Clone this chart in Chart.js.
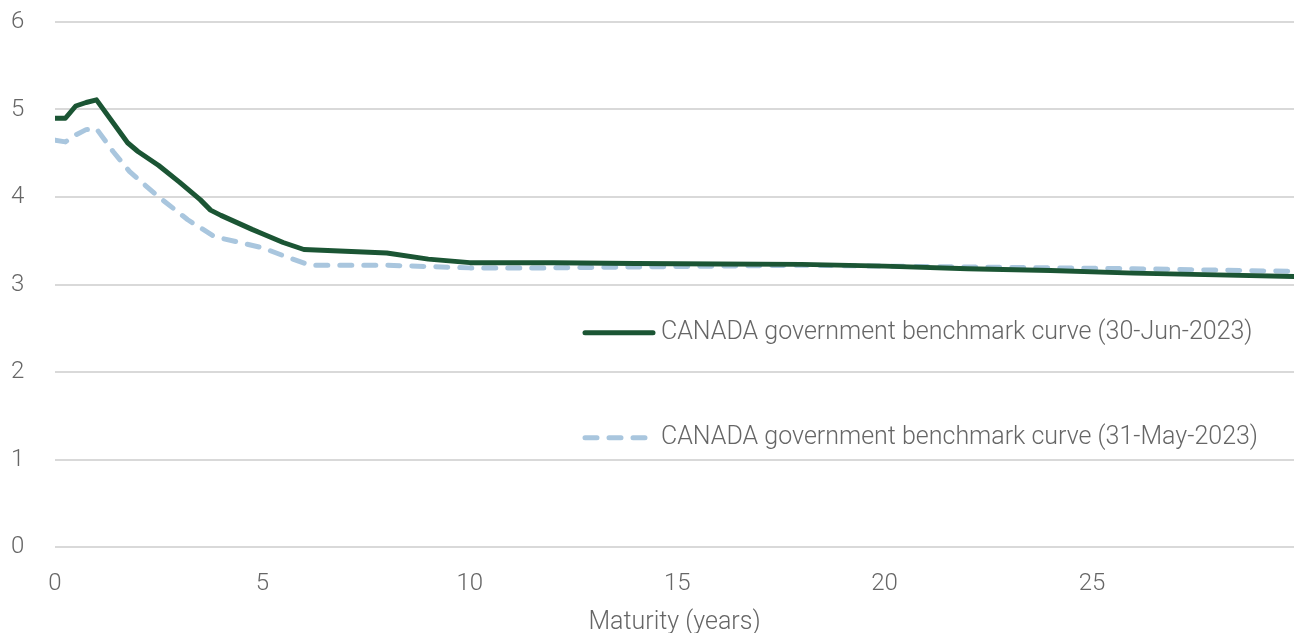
<!DOCTYPE html>
<html>
<head>
<meta charset="utf-8">
<script src="https://cdn.jsdelivr.net/npm/chart.js@4"></script>
<style>
  html, body { margin: 0; padding: 0; background: #fff; }
  #wrap { width: 1294px; height: 633px; }
</style>
</head>
<body>
<div id="wrap"><canvas id="myChart"></canvas></div>
<script>
// maturities (years) and yields (%)
var junMaturity = [0, 0.25, 0.5, 0.75, 1, 1.75, 2, 2.5, 3, 3.5, 3.75, 4, 4.75, 5, 5.5, 6, 7, 8, 9, 10, 12, 14, 16, 18, 20, 22, 24, 26, 28, 29.87];
var junYield    = [4.90, 4.90, 5.04, 5.08, 5.11, 4.62, 4.52, 4.36, 4.17, 3.97, 3.85, 3.79, 3.63, 3.58, 3.48, 3.40, 3.38, 3.36, 3.29, 3.25, 3.25, 3.24, 3.235, 3.23, 3.21, 3.18, 3.16, 3.13, 3.11, 3.09];

var mayMaturity = [0, 0.25, 0.5, 0.75, 1, 1.4, 1.8, 2.45, 3.2, 3.8, 4, 5, 5.5, 6.15, 8, 10, 12, 14, 18, 22, 26, 29.87];
var mayYield    = [4.65, 4.63, 4.71, 4.77, 4.78, 4.52, 4.29, 4.02, 3.74, 3.56, 3.53, 3.42, 3.33, 3.22, 3.22, 3.19, 3.19, 3.20, 3.22, 3.20, 3.18, 3.15];

var seriesLabels = ['CANADA government benchmark curve (30-Jun-2023)', 'CANADA government benchmark curve (31-May-2023)'];
var xTitle = 'Maturity (years)';

var green = '#1b5534';
var blue = '#a9c6de';
var grey = '#666666';
var fam = 'Roboto';

function pts(xs, ys) {
    return xs.map(function (x, i) { return { x: x, y: ys[i] }; });
}

// leyenda dibujada dentro del area del grafico
var insideLegend = {
    id: 'insideLegend',
    afterDraw: function (chart) {
        var ctx = chart.ctx;
        var y = chart.scales.y;
        var area = chart.chartArea;
        var rows = [y.getPixelForValue(2.45), y.getPixelForValue(1.25)];
        ctx.save();
        ctx.font = '300 25px ' + fam;
        ctx.textBaseline = 'middle';
        chart.data.datasets.forEach(function (ds, i) {
            var x0 = area.right - 709;
            ctx.strokeStyle = ds.borderColor;
            ctx.lineWidth = 5;
            ctx.lineCap = 'round';
            ctx.setLineDash(ds.borderDash || []);
            ctx.beginPath();
            ctx.moveTo(x0, rows[i]);
            ctx.lineTo(x0 + 68, rows[i]);
            ctx.stroke();
            ctx.setLineDash([]);
            ctx.fillStyle = grey;
            ctx.fillText(ds.label, x0 + 76, rows[i]);
        });
        ctx.restore();
    }
};

var ctx = document.getElementById('myChart').getContext('2d');
var myChart = new Chart(ctx, {
    type: 'line',
    data: {
        datasets: [{
            label: seriesLabels[0],
            data: pts(junMaturity, junYield),
            borderColor: green,
            borderWidth: 5,
            borderCapStyle: 'round',
            borderJoinStyle: 'round',
            pointRadius: 0,
            tension: 0
        }, {
            label: seriesLabels[1],
            data: pts(mayMaturity, mayYield),
            borderColor: blue,
            borderWidth: 5,
            borderDash: [12, 12],
            borderCapStyle: 'round',
            borderJoinStyle: 'round',
            pointRadius: 0,
            tension: 0
        }]
    },
    options: {
        responsive: true,
        maintainAspectRatio: false,
        animation: false,
        layout: { padding: { top: 22, right: 0, left: 11, bottom: 0 } },
        plugins: {
            legend: { display: false },
            tooltip: { enabled: false }
        },
        scales: {
            x: {
                type: 'linear',
                min: 0,
                max: 29.87,
                border: { display: false },
                grid: { display: false, drawTicks: false },
                ticks: {
                    stepSize: 5,
                    includeBounds: false,
                    color: grey,
                    padding: 23,
                    font: { family: fam, weight: 300, size: 24 }
                },
                title: {
                    display: true,
                    text: xTitle,
                    color: grey,
                    padding: { top: 0, bottom: -5 },
                    font: { family: fam, weight: 300, size: 25 }
                },
                afterFit: function (s) { s.height = 86; }
            },
            y: {
                min: 0,
                max: 6,
                border: { display: false },
                grid: { color: '#d9d9d9', lineWidth: 2, drawTicks: false },
                ticks: {
                    stepSize: 1,
                    color: grey,
                    padding: 0,
                    crossAlign: 'far',
                    font: { family: fam, weight: 300, size: 24 }
                },
                afterFit: function (s) { s.width = 44; }
            }
        }
    },
    plugins: [insideLegend]
});
</script>
</body>
</html>
